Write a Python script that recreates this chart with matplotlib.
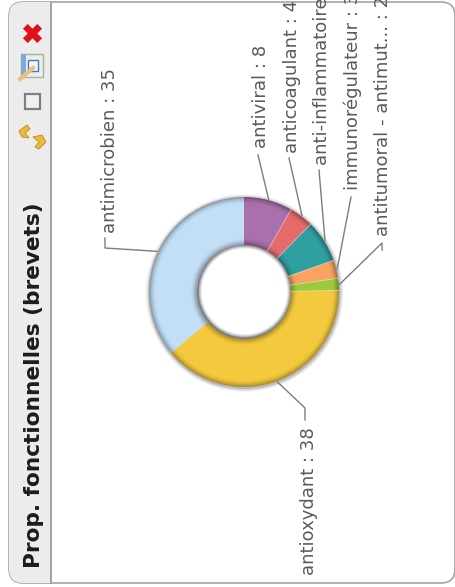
import numpy as np
import matplotlib
matplotlib.use('Agg')
import matplotlib.pyplot as plt
from matplotlib.patches import Circle, FancyBboxPatch, Rectangle, Polygon

title = 'Prop. fonctionnelles (brevets)'
categories = ['antiviral', 'anticoagulant', 'anti-inflammatoire', 'immunorégulateur',
              'antitumoral - antimut...', 'antioxydant', 'antimicrobien']
values = [8, 4, 7, 3, 2, 38, 35]
colors = ['#a870ac', '#e66a6c', '#2f9fa0', '#f9a262', '#9bcb3c', '#f5c93e', '#c3dff6']

# where the label text starts (bottom of rotated text) and elbow of the leader
label_x = [261, 292, 322, 353, 383, 309, 110]
label_y = [148, 153, 165, 190, 236, 575, 233]
elbow_x = [258, 289, 319, 351, 382, 305, 105]
elbow_y = [155, 158, 170, 197, 243, 408, 248]
stub_y = [155, 158, 170, 197, 250, 420, 238]

cx, cy = 244, 292
r_out, r_in = 95, 47

fig = plt.figure(figsize=(4.56, 5.87), dpi=100)
ax = fig.add_axes([0, 0, 1, 1])

# panel
panel = FancyBboxPatch((9, 2), 446, 581, boxstyle='round,pad=0,rounding_size=14',
                       fc='white', ec='#a5a5a5', lw=1.2, zorder=1)
ax.add_patch(panel)
strip = Rectangle((9, 0), 42, 587, fc='#ececec', ec='none', zorder=1.1)
ax.add_patch(strip)
strip.set_clip_path(panel)
ax.plot([51, 51], [3, 583], color='#8e8e8e', lw=1.1, zorder=1.2)

# shadow round the ring
for k, a in zip([4, 3, 2, 1], [0.05, 0.09, 0.14, 0.2]):
    ax.add_patch(Circle((cx + 0.5, cy + 1), r_out + k, fc='#555555', alpha=a, ec='none', zorder=2))
ax.add_patch(Circle((cx, cy), r_in, fc='#777777', ec='none', zorder=2))

# ring with a stepped bevel
steps = [(0, 0.70), (1, 0.76), (2, 0.82), (3, 0.87), (4, 0.92), (5, 0.96), (6, 0.98), (7, 1.0)]
wedges = None
for st, f in steps:
    cols = [tuple(np.array(matplotlib.colors.to_rgb(c)) * f) for c in colors]
    wedges, _ = ax.pie(values, colors=cols, startangle=-90, counterclock=True,
                       center=(cx, cy), radius=r_out - st * 0.9, frame=True,
                       wedgeprops=dict(width=r_out - r_in - 2 * st * 0.9, lw=0))
    for w in wedges:
        w.set_zorder(3 + st * 0.1)

# pale seams between the slices
for w in wedges[:5]:
    th = np.radians(w.theta2)
    ax.plot([cx + r_in * np.cos(th), cx + r_out * np.cos(th)],
            [cy + r_in * np.sin(th), cy + r_out * np.sin(th)],
            color='#f6eee2', lw=0.5, alpha=0.7, zorder=3.9)

# hole, soft grey edge to white
for k, c in zip([3, 2, 1, 0], ['#a8a8a8', '#c8c8c8', '#e4e4e4', 'white']):
    ax.add_patch(Circle((cx + 0.5, cy - 0.5), r_in - 1 - (3 - k), fc=c, ec='none', zorder=4))

# leaders and labels, text is cut by the panel top
for i, name in enumerate(categories):
    th = np.radians((wedges[i].theta1 + wedges[i].theta2) / 2)
    x0 = cx + (r_out + 1) * np.cos(th)
    y0 = cy + (r_out + 1) * np.sin(th)
    ax.plot([x0, elbow_x[i], elbow_x[i]], [y0, elbow_y[i], stub_y[i]],
            color='#7d7d7d', lw=1.0, zorder=5)
    t = ax.text(label_x[i], label_y[i], '%s : %d' % (name, values[i]), rotation=90,
                ha='left', va='center', fontsize=13.0, color='#5a5a5a',
                family='DejaVu Sans', zorder=6, rotation_mode='anchor')
    t.set_clip_path(Rectangle((0, 3), 456, 584, transform=ax.transData))

ax.text(34, 568, title, rotation=90, ha='left', va='center', rotation_mode='anchor',
        fontsize=15.6, fontweight='bold', color='#1c1c1c', family='DejaVu Sans', zorder=6)

# toolbar icons
ax.scatter([32], [33], marker='X', s=190, c='#e0101c', linewidths=0, zorder=6)
ax.add_patch(Rectangle((21, 54), 22, 23, fc='#e9eef2', ec='#a9b48c', lw=1, zorder=6))
ax.add_patch(Rectangle((21, 54), 5, 23, fc='#7fa8d8', ec='none', zorder=6))
ax.add_patch(Rectangle((28, 60), 10, 11, fc='#f4f6f8', ec='#4a78b0', lw=1, zorder=6))
ax.plot([20, 33], [79, 68], color='#e8c27a', lw=3, zorder=7)
ax.add_patch(Rectangle((25, 94), 15, 15, fc='#f0f0f0', ec='#7b7f88', lw=1.6, zorder=6))
ax.add_patch(Polygon([[19, 131], [27, 125], [30, 129], [25, 133], [29, 138], [22, 137]],
                     fc='#f0b93c', ec='#b88a20', lw=0.6, zorder=6))
ax.add_patch(Polygon([[33, 137], [42, 135], [46, 142], [39, 149], [35, 147], [39, 142]],
                     fc='#f0b93c', ec='#b88a20', lw=0.6, zorder=6))

ax.set_xlim(0, 456)
ax.set_ylim(587, 0)
ax.set_aspect('auto')
ax.axis('off')
fig.savefig('out.png', dpi=100, facecolor='white')
